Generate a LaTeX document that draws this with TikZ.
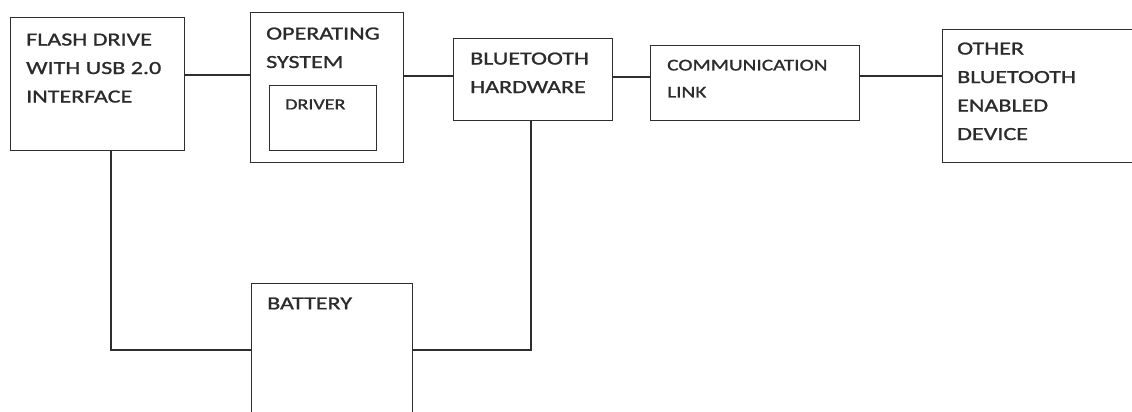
\documentclass[tikz,border=0pt]{standalone}
\usepackage{fontspec}
\setmainfont{Carlito}[FakeStretch=1.3,FakeBold=1.2]
\usetikzlibrary{positioning}

\definecolor{linegray}{HTML}{2E2E2E}
\definecolor{textgray}{HTML}{2B2B2B}

\begin{document}
\begin{tikzpicture}[x=1pt,y=-1pt]
\tikzset{
  blockbox/.style={draw=linegray,line width=1.2pt,inner sep=0pt,anchor=north west},
  blocklabel/.style={text=textgray,inner sep=0pt,anchor=north west,align=left,
    font=\fontsize{18.5}{28.5}\selectfont},
  smalllabel/.style={blocklabel,font=\fontsize{16.4}{27}\selectfont},
  tinylabel/.style={blocklabel,font=\fontsize{15.4}{24}\selectfont},
  link/.style={draw=linegray,line width=1.2pt}
}
\useasboundingbox (0,0) rectangle (1132,412);
\clip (0,0) rectangle (1132,412);
% boxes
\node[blockbox,minimum width=174pt,minimum height=133pt] (n_flash) at (10,17) {};
\node[blockbox,minimum width=153pt,minimum height=150pt] (n_os) at (250,12) {};
\node[blockbox,minimum width=107pt,minimum height=65pt] (n_driver) at (269,85) {};
\node[blockbox,minimum width=159pt,minimum height=82pt] (n_bt) at (453,38) {};
\node[blockbox,minimum width=209pt,minimum height=75pt] (n_comm) at (650,45) {};
\node[blockbox,minimum width=240pt,minimum height=133pt] (n_other) at (942,29) {};
\node[blockbox,minimum width=161pt,minimum height=180pt] (n_battery) at (251,283) {};
% texts
\node[blocklabel] (t_flash) at (26,33.3) {FLASH DRIVE\\WITH USB 2.0\\INTERFACE};
\node[blocklabel] (t_os) at (266,27.3) {OPERATING\\SYSTEM};
\node[tinylabel] (t_driver) at (285,99.3) {DRIVER};
\node[blocklabel] (t_bt) at (470,52.3) {BLUETOOTH\\HARDWARE};
\node[smalllabel] (t_comm) at (667,59.6) {COMMUNICATION\\LINK};
\node[blocklabel] (t_other) at (957,42.3) {OTHER\\BLUETOOTH\\ENABLED\\DEVICE};
\node[blocklabel] (t_battery) at (267,297.3) {BATTERY};
% connections
\draw[link] (n_flash.east |- 0,75) -- (n_os.west |- 0,75);
\draw[link] (n_os.east |- 0,76) -- (n_bt.west |- 0,76);
\draw[link] (n_bt.east |- 0,77) -- (n_comm.west |- 0,77);
\draw[link] (n_comm.east |- 0,76) -- (n_other.west |- 0,76);
\draw[link] (n_flash.south -| 111,0) |- (n_battery.west |- 0,350);
\draw[link] (n_bt.south -| 531,0) |- (n_battery.east |- 0,350);
\end{tikzpicture}
\end{document}
